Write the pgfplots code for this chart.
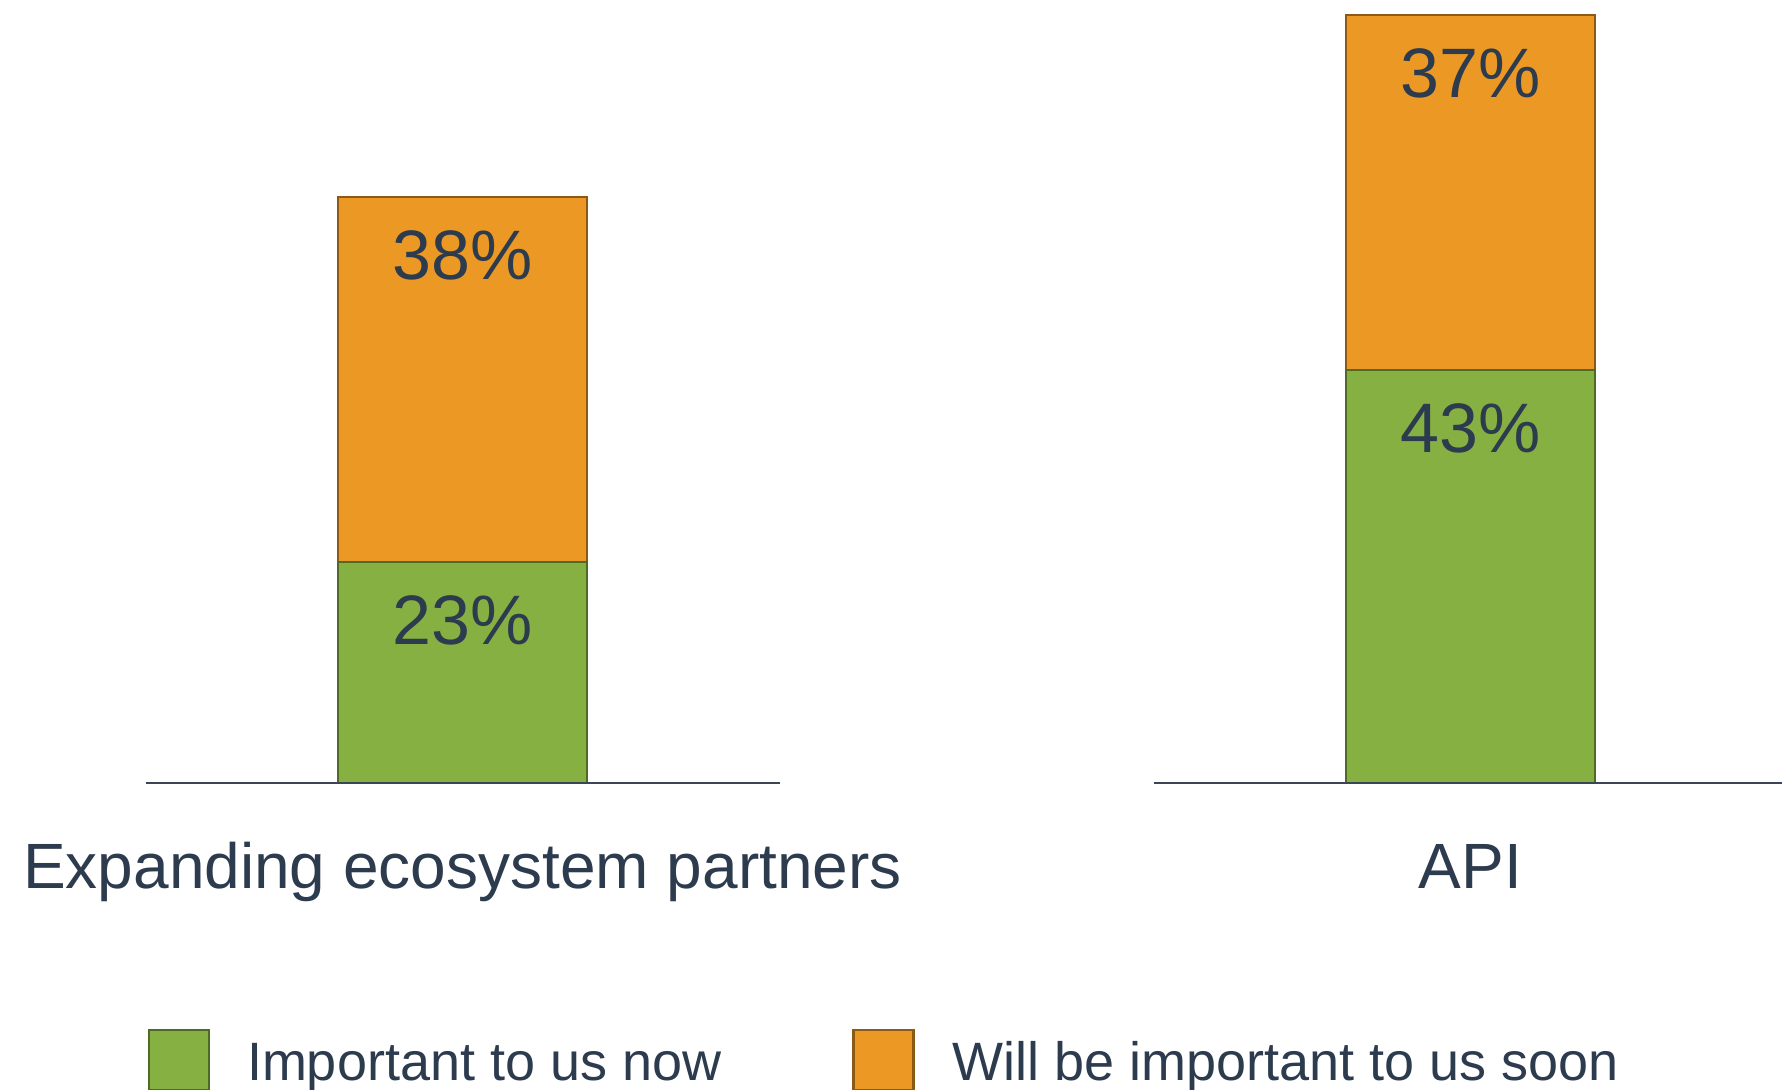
\documentclass[border=0pt]{standalone}
\usepackage{fontspec}
\setmainfont{Liberation Sans}
\usepackage{pgfplots}
\pgfplotsset{compat=1.18}
\definecolor{gfill}{HTML}{86B042}
\definecolor{gdraw}{HTML}{4E6B26}
\definecolor{ofill}{HTML}{EB9924}
\definecolor{odraw}{HTML}{8C5A14}
\definecolor{txt}{HTML}{2D3B4E}
\definecolor{base}{HTML}{3A4556}
% labels sit 29pt below the top of each segment; nodes near coords of stacked bars start at the segment's middle
\pgfplotsset{
  mybars/.style={
    ybar stacked, scale only axis, width=317pt, height=384pt,
    xmin=-1, xmax=1, ymin=0, ymax=80, clip=false,
    bar width=124.5pt,
    axis line style={draw=none}, major tick length=0pt,
    ytick=\empty, xtick={0},
    xticklabel style={font=\fontsize{32}{38}\selectfont, text=txt, anchor=base, yshift=-53pt},
    point meta=explicit symbolic,
    nodes near coords={\pgfplotspointmeta},
    every node near coord/.append style={font=\fontsize{35}{42}\selectfont, text=txt, anchor=center, inner sep=0pt},
  },
  seg/.style={every node near coord/.append style={yshift=#1*2.4pt-29pt}},
}
\begin{document}
\begin{tikzpicture}
\path[use as bounding box] (0,0) rectangle (891pt,545pt);
\begin{axis}[mybars, at={(72.75pt,153.5pt)}, anchor=south west, xticklabels={Expanding ecosystem partners}]
\draw[base, line width=0.75pt] (rel axis cs:0,0) -- (rel axis cs:1,0);
\addplot[fill=gfill, draw=gdraw, line width=1.1pt, seg=23] coordinates {(0,23) [23\%]};
\addplot[fill=ofill, draw=odraw, line width=1.1pt, seg=38] coordinates {(0,38) [38\%]};
\end{axis}
\begin{axis}[mybars, at={(576.75pt,153.5pt)}, anchor=south west, xticklabels={API}]
\draw[base, line width=0.75pt] (rel axis cs:0,0) -- (rel axis cs:1,0);
\addplot[fill=gfill, draw=gdraw, line width=1.1pt, seg=43] coordinates {(0,43) [43\%]};
\addplot[fill=ofill, draw=odraw, line width=1.1pt, seg=37] coordinates {(0,37) [37\%]};
\end{axis}
% legend
\filldraw[fill=gfill, draw=gdraw, line width=1.1pt] (74.5pt,0pt) rectangle (104.5pt,30pt);
\node[anchor=base west, inner sep=0pt, text=txt, font=\fontsize{27}{32}\selectfont] at (123.3pt,4.5pt) {Important to us now};
\filldraw[fill=ofill, draw=odraw, line width=1.1pt] (426.75pt,0pt) rectangle (456.75pt,30pt);
\node[anchor=base west, inner sep=0pt, text=txt, font=\fontsize{27}{32}\selectfont] at (476pt,4.5pt) {Will be important to us soon};
\end{tikzpicture}
\end{document}
